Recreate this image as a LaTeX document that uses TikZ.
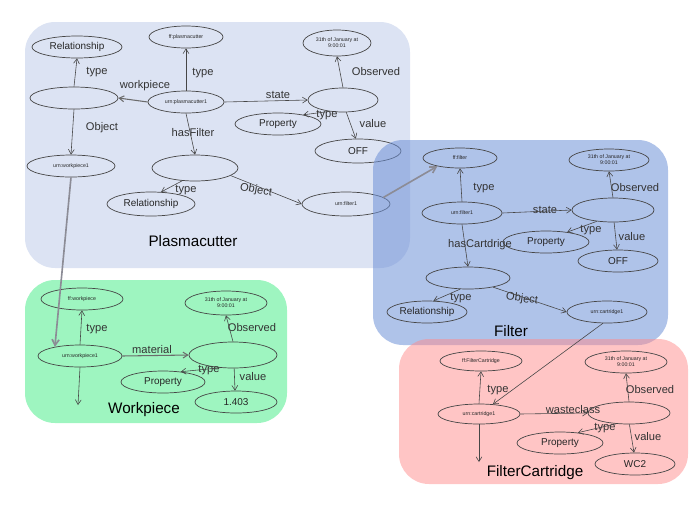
\documentclass[tikz,border=0pt]{standalone}
\usepackage{fontspec}
\setmainfont{Liberation Sans}
\usetikzlibrary{shapes.geometric,arrows.meta}
\definecolor{pcfill}{RGB}{220,227,243}
\definecolor{ffill}{RGB}{110,145,215}
\definecolor{wfill}{RGB}{158,245,192}
\definecolor{cfill}{RGB}{255,140,140}
\definecolor{ink}{RGB}{70,70,70}
\definecolor{link}{RGB}{140,140,150}
\tikzset{
 el/.style 2 args={ellipse, draw=ink, line width=0.6pt, inner sep=0pt, minimum width=#1*0.03cm, minimum height=#2*0.03cm, font=\fontsize{8.5}{9}\selectfont, text=black!85},
 tinytxt/.style={font=\fontsize{4.5}{5}\selectfont, align=center},
 lbl/.style={font=\fontsize{9.5}{10}\selectfont, text=black!80, inner sep=1pt},
 ttl/.style={font=\fontsize{13}{14}\selectfont, text=black, inner sep=0pt},
 arr/.style={draw=ink, line width=0.5pt, -{Straight Barb[length=4pt,width=5pt]}},
 xarr/.style={draw=link, line width=1.4pt, -{Straight Barb[length=5pt,width=6pt]}},
 region/.style={rounded corners=0.9cm, draw=none}
}
\begin{document}
\begin{tikzpicture}[x=0.03cm,y=-0.03cm]
\useasboundingbox (0,0) rectangle (697,518);
% ---------- Plasmacutter ----------
\fill[region, pcfill] (25,22) rectangle (410,268);
\node[el={90}{22}] (rel1) at (77,47) {Relationship};
\node[el={74}{22}, tinytxt] (ffpc) at (186,37) {ff:plasmacutter};
\node[el={88}{22}] (b1) at (74,98) {};
\node[el={76}{22}, tinytxt] (pc1) at (186,102) {urn:plasmacutter1};
\node[el={68}{26}, tinytxt] (t1) at (337,43) {31th of January at\\9:00:01};
\node[el={70}{24}] (s1) at (343,100) {};
\node[el={86}{22}] (prop1) at (278,124) {Property};
\node[el={86}{24}] (off1) at (358,151) {OFF};
\node[el={88}{22}, tinytxt] (wp1) at (71,166) {urn:workpiece1};
\node[el={86}{26}] (b2) at (195,168) {};
\node[el={88}{24}] (rel2) at (151,204) {Relationship};
\node[el={88}{24}, tinytxt] (f1) at (346,204) {urn:filter1};
\node[lbl] (l1) at (97,72) {type};
\node[lbl] (l2) at (203,73) {type};
\node[lbl] (l3) at (145,86) {workpiece};
\node[lbl] (l4) at (102,128) {Object};
\node[lbl] (l5) at (193,133) {hasFilter};
\node[lbl] (l6) at (278,95) {state};
\node[lbl] (l7) at (376,72) {Observed};
\node[lbl] (l8) at (327,115) {type};
\node[lbl] (l9) at (373,124) {value};
\node[lbl] (l10) at (186,190) {type};
\node[lbl, rotate=-10] (l11) at (256,190) {Object};
\node[ttl] (pct) at (193,241) {Plasmacutter};
% ---------- Workpiece ----------
\fill[region, wfill] (25,280) rectangle (287,423);
\node[el={82}{22}, tinytxt] (ffw) at (82,299) {ff:workpiece};
\node[el={84}{22}, tinytxt] (wp2) at (80,356) {urn:workpiece1};
\node[el={88}{26}] (s4) at (233,355) {};
\node[el={82}{24}, tinytxt] (t4) at (226,303) {31th of January at\\9:00:01};
\node[el={84}{22}] (prop4) at (163,382) {Property};
\node[el={82}{22}] (v4) at (236,402) {1.403};
\coordinate (d4) at (78,405);
\node[lbl] (w1) at (97,329) {type};
\node[lbl] (w2) at (152,350) {material};
\node[lbl] (w3) at (252,328) {Observed};
\node[lbl] (w4) at (209,370) {type};
\node[lbl] (w5) at (253,377) {value};
\node[ttl] (wpt) at (144,410) {Workpiece};
% ---------- Filter ----------
\fill[region, ffill, opacity=0.55] (373,140) rectangle (668,345);
\node[el={74}{20}, tinytxt] (ffil) at (460,158) {ff:filter};
\node[el={80}{22}, tinytxt] (f2) at (462,213) {urn:filter1};
\node[el={82}{24}] (s2) at (613,210) {};
\node[el={80}{22}, tinytxt] (t2) at (609,160) {31th of January at\\9:00:01};
\node[el={86}{22}] (prop2) at (546,242) {Property};
\node[el={80}{22}] (off2) at (618,261) {OFF};
\node[el={84}{22}] (b3) at (468,278) {};
\node[el={80}{22}] (rel3) at (427,312) {Relationship};
\node[el={80}{22}, tinytxt] (c1) at (607,312) {urn:cartridge1};
\node[lbl] (g1) at (484,188) {type};
\node[lbl] (g2) at (545,210) {state};
\node[lbl] (g3) at (635,188) {Observed};
\node[lbl] (g4) at (591,230) {type};
\node[lbl] (g5) at (632,237) {value};
\node[lbl] (g6) at (480,245) {hasCartdrige};
\node[lbl] (g7) at (461,298) {type};
\node[lbl, rotate=-8] (g8) at (522,299) {Object};
\node[ttl] (ftt) at (511,331) {Filter};
% ---------- FilterCartridge ----------
\fill[region, cfill, opacity=0.5] (399,339) rectangle (688,484);
\node[el={82}{20}, tinytxt] (ffc) at (481,361) {ff:FilterCartridge};
\node[el={82}{20}, tinytxt] (c2) at (479,414) {urn:cartridge1};
\node[el={82}{22}] (s3) at (629,413) {};
\node[el={82}{22}, tinytxt] (t3) at (626,362) {31th of January at\\9:00:01};
\node[el={86}{22}] (prop3) at (560,443) {Property};
\node[el={80}{22}] (wc) at (635,464) {WC2};
\coordinate (d3) at (479,462);
\node[lbl] (k1) at (498,390) {type};
\node[lbl] (k2) at (573,410) {wasteclass};
\node[lbl] (k3) at (650,390) {Observed};
\node[lbl] (k4) at (605,428) {type};
\node[lbl] (k5) at (648,437) {value};
\node[ttl] (fct) at (535,473) {FilterCartridge};
% ---------- edges ----------
\draw[arr] (b1.north) -- (rel1.south);
\draw[arr, line width=0.9pt, draw=ink!80] (pc1.west) -- (b1.east);
\draw[arr] (pc1.north) -- (ffpc.south);
\draw[arr] (b1.south) -- (wp1.north);
\draw[arr] (pc1.south) -- (b2.north);
\draw[arr] (pc1.east) -- (s1.west);
\draw[arr] (s1.north) -- (t1.south);
\draw[arr] (s1.220) -- (prop1.20);
\draw[arr] (s1.-75) -- (off1.100);
\draw[arr] (b2.225) -- (rel2.50);
\draw[arr] (b2.-12) -- (f1.west);
\draw[arr] (wp2.north) -- (ffw.south);
\draw[arr] (wp2.south) -- (d4);
\draw[arr, line width=0.9pt, draw=ink!80] (wp2.east) -- (s4.west);
\draw[arr] (s4.north) -- (t4.south);
\draw[arr] (s4.225) -- (prop4.30);
\draw[arr] (s4.-85) -- (v4.95);
\draw[arr] (f2.north) -- (ffil.south);
\draw[arr] (f2.east) -- (s2.west);
\draw[arr] (s2.north) -- (t2.south);
\draw[arr] (s2.215) -- (prop2.25);
\draw[arr] (s2.-85) -- (off2.95);
\draw[arr] (f2.south) -- (b3.north);
\draw[arr] (b3.235) -- (rel3.60);
\draw[arr] (b3.-20) -- (c1.west);
\draw[arr] (c2.north) -- (ffc.south);
\draw[arr] (c2.south) -- (d3);
\draw[arr] (c2.east) -- (s3.west);
\draw[arr] (s3.north) -- (t3.south);
\draw[arr] (s3.220) -- (prop3.30);
\draw[arr] (s3.-88) -- (wc.95);
\draw[arr] (c1.250) -- (c2.35);
\draw[xarr] (wp1.south) -- (wp2.160);
\draw[xarr] (f1.10) -- (ffil.200);
\end{tikzpicture}
\end{document}
